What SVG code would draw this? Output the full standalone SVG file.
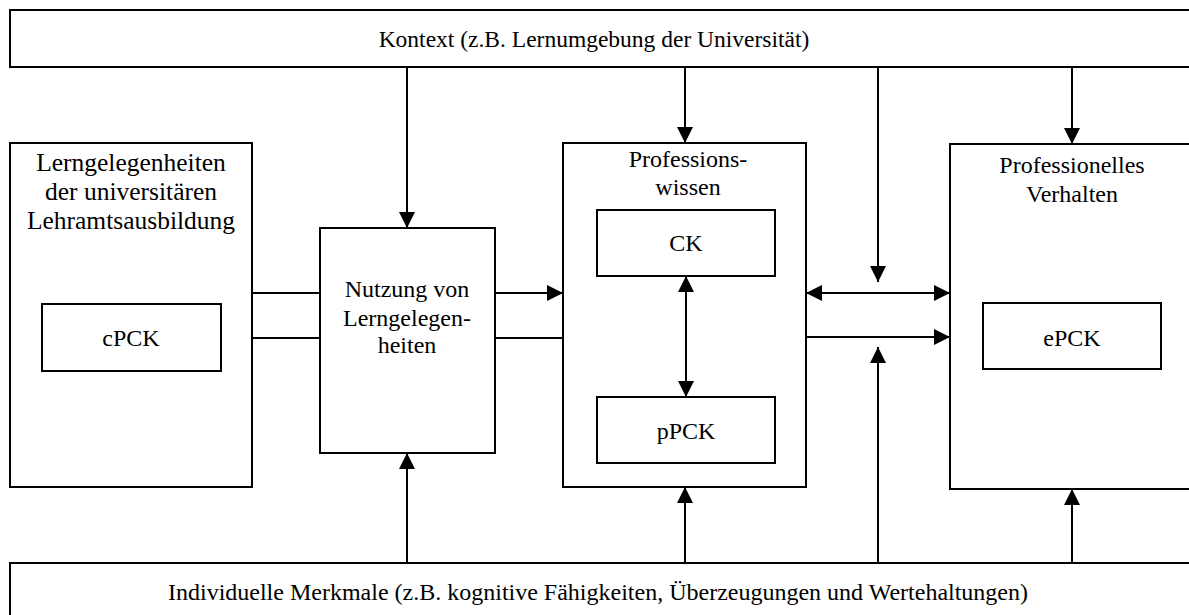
<svg xmlns="http://www.w3.org/2000/svg" width="1189" height="615" viewBox="0 0 1189 615">
<style>
.box{fill:#fff;stroke:#000;stroke-width:2}
.t{font-family:"Liberation Serif","Times New Roman",serif;font-size:24px;fill:#000;text-anchor:middle}
.big{font-size:25.5px}
.c{fill:none;stroke:#000;stroke-width:2}
</style>
<defs>
<marker id="ah" viewBox="0 0 16 16" refX="16" refY="8" markerWidth="16" markerHeight="16" markerUnits="userSpaceOnUse" orient="auto-start-reverse">
<path d="M0,0 L16,8 L0,16 z" fill="#000"/>
</marker>
</defs>
<rect width="1189" height="615" fill="#fff"/>
<g id="kontext">
<rect class="box" x="10" y="10" width="1190" height="57"/>
<text class="t" x="594" y="47" style="font-size:23.5px">Kontext (z.B. Lernumgebung der Universität)</text>
</g>
<g id="merkmale">
<rect class="box" x="10" y="563" width="1190" height="60"/>
<text class="t" x="598" y="600">Individuelle Merkmale (z.B. kognitive Fähigkeiten, Überzeugungen und Wertehaltungen)</text>
</g>
<g id="lerngelegenheiten">
<rect class="box" x="10" y="143" width="242" height="344"/>
<text class="t big" x="131" y="171">Lerngelegenheiten</text>
<text class="t big" x="131" y="200">der universitären</text>
<text class="t big" x="131" y="229">Lehramtsausbildung</text>
</g>
<g id="cpck">
<rect class="box" x="42" y="304" width="179" height="67"/>
<text class="t" x="131" y="346">cPCK</text>
</g>
<g id="nutzung">
<rect class="box" x="320" y="228" width="175" height="225"/>
<text class="t" x="407" y="297">Nutzung von</text>
<text class="t" x="407" y="326">Lerngelegen-</text>
<text class="t" x="407" y="353">heiten</text>
</g>
<g id="professionswissen">
<rect class="box" x="563" y="143" width="243" height="344"/>
<text class="t" x="688" y="167">Professions-</text>
<text class="t" x="688" y="195">wissen</text>
</g>
<g id="ck">
<rect class="box" x="597" y="210" width="178" height="66"/>
<text class="t" x="686" y="251">CK</text>
</g>
<g id="ppck">
<rect class="box" x="597" y="397" width="178" height="66"/>
<text class="t" x="686" y="439">pPCK</text>
</g>
<g id="verhalten">
<rect class="box" x="950" y="144" width="250" height="345"/>
<text class="t" x="1072" y="173">Professionelles</text>
<text class="t" x="1072" y="202">Verhalten</text>
</g>
<g id="epck">
<rect class="box" x="983" y="303" width="178" height="66"/>
<text class="t" x="1072" y="346">ePCK</text>
</g>
<g id="connectors">
<line class="c" x1="407" y1="67" x2="407" y2="228" marker-end="url(#ah)"/>
<line class="c" x1="685" y1="67" x2="685" y2="143" marker-end="url(#ah)"/>
<line class="c" x1="878" y1="67" x2="878" y2="282" marker-end="url(#ah)"/>
<line class="c" x1="1072" y1="67" x2="1072" y2="144" marker-end="url(#ah)"/>
<line class="c" x1="407" y1="563" x2="407" y2="453" marker-end="url(#ah)"/>
<line class="c" x1="685" y1="563" x2="685" y2="487" marker-end="url(#ah)"/>
<line class="c" x1="878" y1="563" x2="878" y2="347" marker-end="url(#ah)"/>
<line class="c" x1="1072" y1="563" x2="1072" y2="489" marker-end="url(#ah)"/>
<line class="c" x1="252" y1="293" x2="320" y2="293"/>
<line class="c" x1="252" y1="338" x2="320" y2="338"/>
<line class="c" x1="495" y1="293" x2="563" y2="293" marker-end="url(#ah)"/>
<line class="c" x1="495" y1="338" x2="563" y2="338"/>
<line class="c" x1="686" y1="276" x2="686" y2="397" marker-start="url(#ah)" marker-end="url(#ah)"/>
<line class="c" x1="806" y1="293" x2="950" y2="293" marker-start="url(#ah)" marker-end="url(#ah)"/>
<line class="c" x1="806" y1="337" x2="950" y2="337" marker-end="url(#ah)"/>
</g>
</svg>
